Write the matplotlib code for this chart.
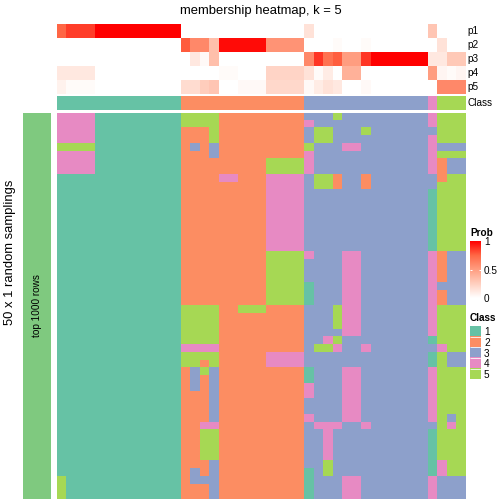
import numpy as np
import matplotlib
matplotlib.use("Agg")
import matplotlib.pyplot as plt
from matplotlib.colors import ListedColormap, LinearSegmentedColormap

plt.rcParams['font.family'] = ['Liberation Sans', 'DejaVu Sans']

# membership probability per sample (43 samples, left to right)
p1 = [0.75, 0.85, 0.85, 0.85, 1, 1, 1, 1, 1, 1, 1, 1, 1,
      0, 0, 0, 0, 0, 0, 0, 0, 0, 0, 0, 0, 0,
      0.15, 0, 0, 0, 0, 0, 0, 0, 0, 0, 0, 0, 0,
      0.3, 0, 0, 0]
p2 = [0, 0, 0, 0, 0, 0, 0, 0, 0, 0, 0, 0, 0,
      0.78, 0.6, 0.6, 0.33, 0.97, 0.97, 0.97, 0.97, 0.97, 0.55, 0.55, 0.55, 0.55,
      0, 0, 0, 0.02, 0, 0, 0.02, 0, 0, 0, 0, 0, 0,
      0, 0.15, 0, 0]
p3 = [0, 0, 0, 0, 0, 0, 0, 0, 0, 0, 0, 0, 0,
      0, 0.12, 0.03, 0.33, 0, 0, 0, 0, 0, 0, 0, 0, 0,
      0.6, 0.87, 0.7, 0.77, 0.5, 0.5, 0.87, 1, 1, 1, 1, 1, 1,
      0.12, 0.12, 0.28, 0.28]
p4 = [0.12, 0.12, 0.12, 0.12, 0, 0, 0, 0, 0, 0, 0, 0, 0,
      0, 0, 0, 0, 0.02, 0.02, 0, 0, 0, 0.22, 0.22, 0.22, 0.22,
      0.15, 0.02, 0.1, 0, 0.4, 0.4, 0, 0, 0, 0, 0, 0, 0,
      0.5, 0.05, 0.02, 0.05]
p5 = [0.07, 0.02, 0.02, 0.02, 0, 0, 0, 0, 0, 0, 0, 0, 0,
      0.18, 0.18, 0.26, 0.3, 0, 0, 0.03, 0.03, 0.03, 0.2, 0.2, 0.2, 0.2,
      0.03, 0.1, 0.15, 0.12, 0, 0, 0.03, 0, 0, 0, 0, 0, 0,
      0, 0.6, 0.6, 0.6]
prob_labels = ["p1", "p2", "p3", "p4", "p5"]

sample_class = [1] * 13 + [2] * 13 + [3] * 13 + [4] + [5] * 3

# class calls of the 50 random samplings (rows) for every sample (columns)
sampling_rows = [
    "4444111111111 5555222222222 3335333333333 4 555",
    "4444111111111 5555222222222 4333333333333 4 555",
    "4444111111111 2225222222222 3553335333333 3 555",
    "4444111111111 2225222222222 3553333333333 4 555",
    "5555111111111 2323222222222 5333443333333 4 333",
    "4444111111111 2223222222222 4333333333333 4 555",
    "4444111111111 2222222225555 4333333333333 4 233",
    "4444111111111 2222222225555 4333333333333 4 233",
    "1111111111111 2222442224444 3552332333333 3 255",
    "1111111111111 2222222224444 3552332333333 3 555",
    "1111111111111 2222222224444 3333333333333 1 555",
    "1111111111111 2222222224444 3333333333333 1 555",
    "1111111111111 2222222224444 3333333333333 1 555",
    "1111111111111 2222222224444 3333333333333 1 555",
    "1111111111111 2222222224444 3333333333333 1 555",
    "1111111111111 2222222224444 3333333333333 1 555",
    "1111111111111 2222222224444 3333333333333 1 555",
    "1111111111111 2222222224444 3333333333333 1 555",
    "1111111111111 2222222225555 4333443333333 4 233",
    "1111111111111 2222222225555 3333443333333 4 233",
    "1111111111111 2222222225555 3333443333333 4 233",
    "1111111111111 2222222225555 3333443333333 4 233",
    "1111111111111 2222222225555 1333443333333 4 333",
    "1111111111111 2222222225555 1333443333333 4 233",
    "1111111111111 2222222225555 1333443333333 4 233",
    "1111111111111 5555225552222 3335443333333 4 555",
    "1111111111111 5555222222222 3335443333333 4 555",
    "1111111111111 5555222222222 3335443333333 4 555",
    "1111111111111 5555222222222 3333443333333 4 555",
    "1111111111111 5555222222222 3345333333333 1 555",
    "1111111111111 4444222222222 3554334333333 3 455",
    "1111111111111 5555222224444 3333333333333 1 533",
    "1111111111111 5525222224444 3333333333333 1 533",
    "1111111111111 2353222222222 1333443333333 4 555",
    "1111111111111 2323222222222 1333443333333 4 555",
    "1111111111111 2323222222222 4333443333333 4 555",
    "1111111111111 2223222222222 4333443333333 4 555",
    "1111111111111 2223222222222 3333443333333 4 555",
    "1111111111111 2223222222222 3333443333333 4 555",
    "1111111111111 2223222222222 4333443333333 4 535",
    "1111111111111 2244222222222 3444334333333 3 545",
    "1111111111111 2255222222222 3343333333333 1 555",
    "1111111111111 2255222222222 3343333333333 1 555",
    "1111111111111 2255222222222 3343333333333 1 555",
    "1111111111111 2255222222222 3343333333333 1 555",
    "1111111111111 2223222222222 3353333333333 1 455",
    "1111111111111 2323222222222 1353333333333 1 455",
    "5111111111111 2333222222222 1333443333333 4 333",
    "5111111111111 2223222222222 1333443333333 4 333",
    "5111111111111 2223222222222 1333443333333 4 333",
]
class_labels = ["1", "2", "3", "4", "5"]

class_colors = ["#66C2A5", "#FC8D62", "#8DA0CB", "#E78AC3", "#A6D854"]
class_cmap = ListedColormap(class_colors)
prob_cmap = LinearSegmentedColormap.from_list(
    "prob", ["#FFFFFF", "#FFCFBF", "#FF9E81", "#FF6846", "#FF0000"])

prob = np.array([p1, p2, p3, p4, p5])
calls = np.array([[int(ch) for ch in r.replace(" ", "")] for r in sampling_rows])

W = 504.0
fig = plt.figure(figsize=(7, 7), dpi=72)


def px_axes(x0, y0, x1, y1):
    # axes placed in pixel coords, y measured from the top
    return fig.add_axes([x0 / W, 1 - y1 / W, (x1 - x0) / W, (y1 - y0) / W])


hx0, hx1 = 56.7, 464.7

ax_p = px_axes(hx0, 24, hx1, 94)
ax_p.imshow(prob, cmap=prob_cmap, vmin=0, vmax=1, aspect='auto',
            interpolation='nearest')
ax_p.set_axis_off()
for i, lab in enumerate(prob_labels):
    fig.text(467 / W, 1 - (31 + 14 * i) / W, lab, fontsize=10,
             ha='left', va='center')

ax_c = px_axes(hx0, 96, hx1, 110)
ax_c.imshow([sample_class], cmap=class_cmap, vmin=0.5, vmax=5.5,
            aspect='auto', interpolation='nearest')
ax_c.set_axis_off()
fig.text(467 / W, 1 - 103 / W, "Class", fontsize=10, ha='left', va='center')

ax_h = px_axes(hx0, 112.7, hx1, 499)
ax_h.imshow(calls, cmap=class_cmap, vmin=0.5, vmax=5.5, aspect='auto',
            interpolation='nearest')
ax_h.set_axis_off()

ax_l = px_axes(23, 112.7, 51, 499)
ax_l.set_facecolor("#7FC97F")
ax_l.set_xticks([])
ax_l.set_yticks([])
for s in ax_l.spines.values():
    s.set_visible(False)
ax_l.text(0.5, 0.5, "top 1000 rows", rotation=90, fontsize=10,
          ha='center', va='center', transform=ax_l.transAxes)

fig.text(10 / W, 0.5, "50 x 1 random samplings", rotation=90, fontsize=13,
         ha='center', va='center')
fig.text(261 / W, 1 - 11 / W, "membership heatmap, k = 5", fontsize=13,
         ha='center', va='center')

# Prob legend
fig.text(470 / W, 1 - 233 / W, "Prob", fontsize=10, fontweight='bold',
         ha='left', va='center')
ax_cb = px_axes(470, 241, 481, 298)
ax_cb.imshow(np.linspace(1, 0, 200)[:, None], cmap=prob_cmap, vmin=0, vmax=1,
             aspect='auto', extent=[0, 1, 0, 1])
ax_cb.hlines([0.5], 0, 0.22, color='white', lw=1)
ax_cb.hlines([0.5], 0.78, 1, color='white', lw=1)
ax_cb.set_xticks([])
ax_cb.yaxis.tick_right()
ax_cb.set_yticks([0, 0.5, 1])
ax_cb.set_yticklabels(["0", "0.5", "1"])
ax_cb.tick_params(length=0, pad=3, labelsize=10)
for s in ax_cb.spines.values():
    s.set_visible(False)

# Class legend
fig.text(470 / W, 1 - 318 / W, "Class", fontsize=10, fontweight='bold',
         ha='left', va='center')
ax_cl = px_axes(470, 326, 481, 379.5)
ax_cl.imshow(np.arange(1, 6)[:, None], cmap=class_cmap, vmin=0.5, vmax=5.5,
             aspect='auto', interpolation='nearest')
ax_cl.hlines(np.arange(0.5, 4.5), -0.5, 0.5, color='white', lw=0.8)
ax_cl.set_xticks([])
ax_cl.yaxis.tick_right()
ax_cl.set_yticks(range(5))
ax_cl.set_yticklabels(class_labels)
ax_cl.tick_params(length=0, pad=3, labelsize=10)
for s in ax_cl.spines.values():
    s.set_visible(False)

fig.savefig("out.png", dpi=72)
